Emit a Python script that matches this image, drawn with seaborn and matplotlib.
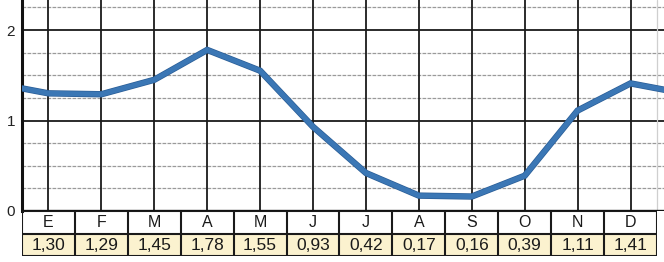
import matplotlib
matplotlib.use("Agg")
import matplotlib.pyplot as plt
import matplotlib.patheffects as pe
import numpy as np
import pandas as pd
import seaborn as sns

months = ["E", "F", "M", "A", "M", "J", "J", "A", "S", "O", "N", "D"]
values = [1.30, 1.29, 1.45, 1.78, 1.55, 0.93, 0.42, 0.17, 0.16, 0.39, 1.11, 1.41]
value_labels = ["1,30", "1,29", "1,45", "1,78", "1,55", "0,93", "0,42", "0,17", "0,16", "0,39", "1,11", "1,41"]
y_ticks = [0, 1, 2]

sns.set_theme(style="white")
plt.rcParams["font.family"] = ["Liberation Sans", "DejaVu Sans"]

W, H = 664, 262
fig = plt.figure(figsize=(W / 100, H / 100), dpi=100)
fig.patch.set_facecolor("white")

unit = 635 / 12.0
ax = fig.add_axes([22 / W, (H - 211) / H, (W - 22) / W, 211 / H])
ax.set_xlim(-0.5, -0.5 + (W - 22) / unit)
ax.set_ylim(0, 211 / 90.5)

n = len(months)
# grid
for yy in np.arange(0.25, 2.5, 0.25):
    if abs(yy - round(yy)) < 1e-6:
        ax.axhline(yy, color="#1a1a1a", lw=1.3, zorder=1)
    else:
        ax.axhline(yy, color="#9a9a9a", lw=0.9, ls=(0, (3, 1)), zorder=1)
for i in range(n):
    ax.axvline(i, color="#1a1a1a", lw=1.3, zorder=1)
ax.axvline(n - 0.5, color="#cfcfcf", lw=0.9, zorder=1)

# cyclic line (previous December and next January shown at edges)
df = pd.DataFrame({
    "x": [-1] + list(range(n)) + [n],
    "y": [values[-1]] + values + [values[0]],
})
sns.lineplot(data=df, x="x", y="y", sort=False, ax=ax, color="#3b77b5", lw=3.6,
             zorder=3, solid_joinstyle="miter",
             path_effects=[pe.Stroke(linewidth=4.6, foreground="#2a5d96"), pe.Normal()])

for s in ["top", "right", "bottom"]:
    ax.spines[s].set_visible(False)
ax.spines["left"].set_color("#111111")
ax.spines["left"].set_linewidth(2.2)
ax.axhline(0, color="#111111", lw=2.4, zorder=4)
ax.set_xticks([])
ax.set_yticks(y_ticks)
ax.set_yticklabels([str(t) for t in y_ticks], fontsize=11, color="#222222")
ax.tick_params(axis="y", length=0, pad=5)
ax.set_xlabel("")
ax.set_ylabel("")

# table below
tax = fig.add_axes([22 / W, (H - 256) / H, 635 / W, 45 / H])
tax.set_xlim(-0.5, n - 0.5)
tax.set_ylim(0, 2)
tax.axis("off")
tax.axhspan(0, 1, color="#fbf2cf", zorder=0)
for yy in [0, 1, 2]:
    tax.axhline(yy, color="#1a1a1a", lw=1.5, zorder=2)
for i in range(n + 1):
    tax.axvline(i - 0.5, color="#1a1a1a", lw=1.5, zorder=2)
for i, (m, v) in enumerate(zip(months, value_labels)):
    tax.text(i, 1.5, m, ha="center", va="center", fontsize=11.5, color="#1a1a1a")
    tax.text(i, 0.48, v, ha="center", va="center", fontsize=12.5, color="#1a1a1a")

fig.savefig("out.png", dpi=100, facecolor="white")
